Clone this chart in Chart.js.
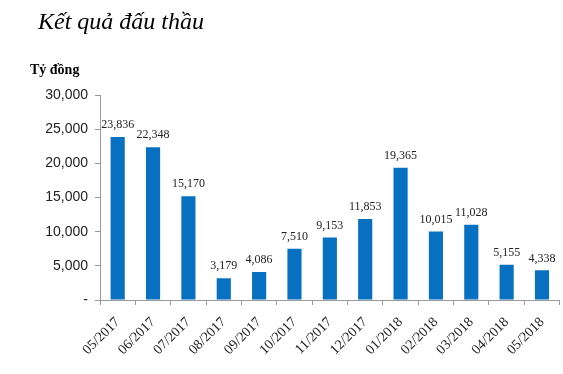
<!DOCTYPE html>
<html>
<head>
<meta charset="utf-8">
<script src="https://cdn.jsdelivr.net/npm/chart.js@4/dist/chart.umd.min.js"></script>
<style>
  body { margin: 0; background: #fff; }
  #wrap { position: relative; width: 563px; height: 374px; }
  #title { position: absolute; left: 38px; top: 8px; font-family: "Liberation Serif", serif; font-style: italic; font-size: 24px; color: #000; }
  #unit { position: absolute; left: 30px; top: 62px; font-family: "Liberation Serif", serif; font-weight: bold; font-size: 14px; color: #000; }
  canvas { position: absolute; left: 0; top: 0; }
</style>
</head>
<body>
<div id="wrap">
  <canvas id="myChart" width="563" height="374"></canvas>
  <div id="title">Kết quả đấu thầu</div>
  <div id="unit">Tỷ đồng</div>
</div>
<script>
const months = ["05/2017", "06/2017", "07/2017", "08/2017", "09/2017", "10/2017", "11/2017",
                "12/2017", "01/2018", "02/2018", "03/2018", "04/2018", "05/2018"]
const results = [23836, 22348, 15170, 3179, 4086, 7510, 9153, 11853, 19365, 10015, 11028, 5155, 4338]
const yTicks = [0, 5000, 10000, 15000, 20000, 25000, 30000]

// draws the value above every bar
const barLabels = {
  id: "barLabels",
  afterDatasetsDraw(chart) {
    const ctx = chart.ctx
    const meta = chart.getDatasetMeta(0)
    ctx.save()
    ctx.font = "12px 'Liberation Serif'"
    ctx.fillStyle = "#222"
    ctx.textAlign = "center"
    ctx.textBaseline = "bottom"
    meta.data.forEach((bar, i) => {
      ctx.fillText(results[i].toLocaleString("en-US"), bar.x, bar.y - 6)
    })
    ctx.restore()
  }
}

const ctx = document.getElementById("myChart")

new Chart(ctx, {
  type: "bar",
  data: {
    labels: months,
    datasets: [{
      data: results,
      backgroundColor: "#0870C0",
      categoryPercentage: 1,
      barPercentage: 0.4
    }]
  },
  options: {
    responsive: false,
    animation: false,
    layout: { padding: { top: 95, right: 3, left: 0, bottom: 0 } },
    plugins: { legend: { display: false }, tooltip: { enabled: false } },
    scales: {
      y: {
        min: 0,
        max: 30000,
        afterBuildTicks: (scale) => { scale.ticks = yTicks.map(v => ({ value: v })) },
        afterFit: (scale) => { scale.width = 100 },
        border: { color: "#999" },
        grid: { drawOnChartArea: false, tickLength: 5, color: "#999" },
        ticks: {
          padding: 7,
          color: "#222",
          font: { family: "Liberation Sans", size: 14 },
          callback: (v) => v === 0 ? "-" : v.toLocaleString("en-US")
        }
      },
      x: {
        afterFit: (scale) => { scale.height = 74 },
        border: { color: "#999" },
        grid: { offset: true, drawOnChartArea: false, tickLength: 5, color: "#999" },
        ticks: {
          minRotation: 45,
          maxRotation: 45,
          padding: 9,
          color: "#222",
          font: { family: "Liberation Serif", size: 14 }
        }
      }
    }
  },
  plugins: [barLabels]
})
</script>
</body>
</html>
